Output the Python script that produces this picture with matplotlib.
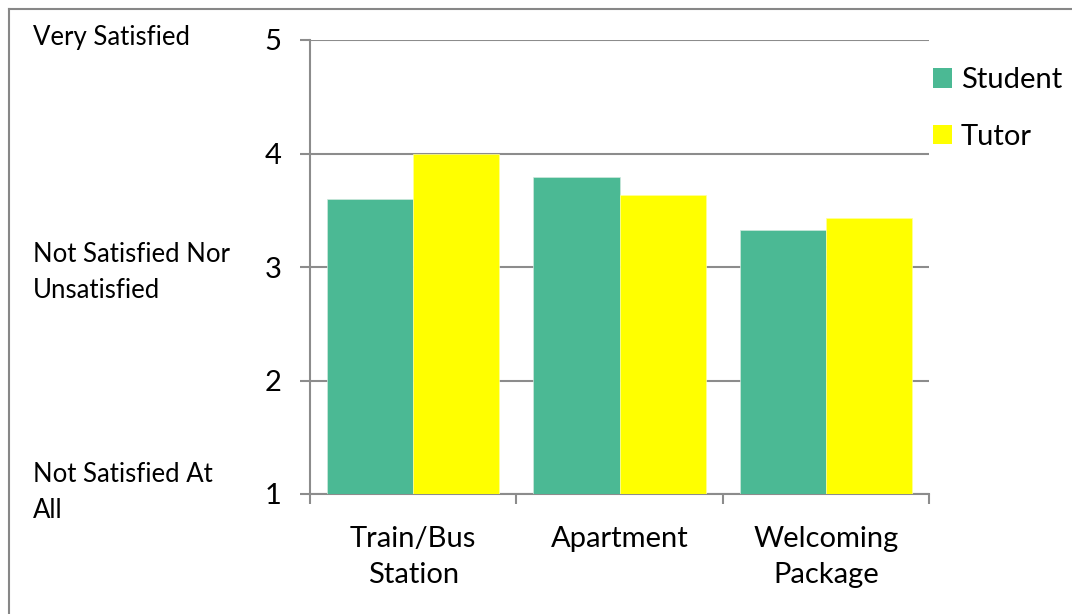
import matplotlib
matplotlib.use("Agg")
import matplotlib.pyplot as plt
from matplotlib.patches import Patch
from matplotlib.lines import Line2D
import numpy as np

categories = ["Train/Bus\nStation", "Apartment", "Welcoming\nPackage"]
student = [3.60, 3.79, 3.33]
tutor = [4.00, 3.63, 3.43]
series_names = ["Student", "Tutor"]
yticks = [1, 2, 3, 4, 5]
side_texts = ["Very Satisfied", "Not Satisfied Nor\nUnsatisfied", "Not Satisfied At\nAll"]

FONT = ["Lato", "DejaVu Sans"]
FS_SIDE = 18.5
FS = 21
plt.rcParams['font.family'] = FONT

W, H = 1072, 614
fig = plt.figure(figsize=(W / 100, H / 100), dpi=100)
ax = fig.add_axes([310 / W, 1 - 494 / H, (929 - 310) / W, (494 - 40) / H])

green = "#4BB994"
yellow = "#FFFF00"
grey = "#8C8C8C"

x = np.arange(len(categories))
w = 0.417
ax.bar(x - w / 2, np.array(student) - 1, w, bottom=1, color=green, edgecolor="#CFE8DD", linewidth=0.5, zorder=3)
ax.bar(x + w / 2, np.array(tutor) - 1, w, bottom=1, color=yellow, edgecolor="#FFFF99", linewidth=0.5, zorder=3)

ax.set_xlim(-0.5, len(categories) - 0.5)
ax.set_ylim(1, 5)
ax.set_yticks(yticks)
ax.set_yticklabels([str(v) for v in yticks], fontsize=FS)
ax.yaxis.grid(True, color=grey, linewidth=1.5, zorder=0)
ax.set_axisbelow(True)

ax.set_xticks(x)
ax.set_xticklabels(categories, fontsize=FS, linespacing=1.5)
ax.set_xticks(np.arange(-0.5, len(categories)), minor=True)
ax.tick_params(axis="x", which="major", length=0, pad=23)
ax.tick_params(axis="x", which="minor", length=7.5, width=1.5, color=grey, direction="out")
ax.tick_params(axis="y", length=7.5, width=1.5, color=grey, pad=13)

for s in ["top", "right"]:
    ax.spines[s].set_visible(False)
for s in ["left", "bottom"]:
    ax.spines[s].set_color(grey)
    ax.spines[s].set_linewidth(1.5)

# side labels placed (in figure pixels from top) beside the 5, 3 and 1 levels
side_y_px = [38, 273, 492]
for ypx, txt in zip(side_y_px, side_texts):
    fig.text(33 / W, 1 - ypx / H, txt, ha="left", va="center", fontsize=FS_SIDE,
             linespacing=1.55)

handles = [Patch(facecolor=green, edgecolor="none"), Patch(facecolor=yellow, edgecolor="none")]
leg = fig.legend(handles, series_names, loc="upper left", bbox_to_anchor=(933 / W, 1 - 67 / H),
                 frameon=False, fontsize=FS, handlelength=0.66, handleheight=0.66,
                 handletextpad=0.3, labelspacing=1.05, borderaxespad=0, borderpad=0)

# outer frame (top and left edges visible)
fig.add_artist(Line2D([9 / W, 1], [1 - 8.5 / H, 1 - 8.5 / H], transform=fig.transFigure, color="#878787", linewidth=1.5))
fig.add_artist(Line2D([9 / W, 9 / W], [0, 1 - 8.5 / H], transform=fig.transFigure, color="#878787", linewidth=1.5))

fig.savefig("out.png", dpi=100)
